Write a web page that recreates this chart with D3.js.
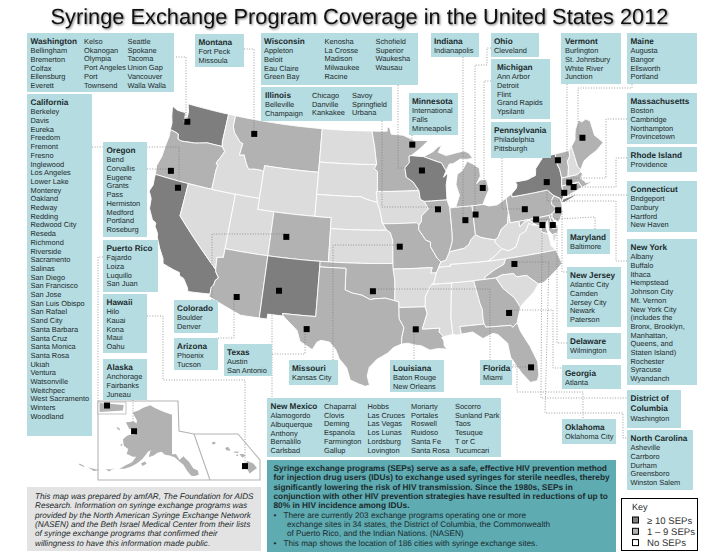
<!DOCTYPE html>
<html>
<head>
<meta charset="utf-8">
<script src="https://d3js.org/d3.v7.min.js"></script>
<style>
  body { margin: 0; background: #fff; }
  text { font-family: "Liberation Sans", Arial, sans-serif; fill: #1c2a2c; text-rendering: geometricPrecision; }
</style>
</head>
<body>
<script>
/* coverage groups */
var highStates = ["WA", "CA", "NM", "WI", "NY"];
var someStates = ["OR", "MT", "AZ", "CO", "TX", "OK", "MN", "MO", "LA", "IL", "IN", "MI", "MI2", "OH", "PA",
  "GA", "FL", "NC", "MD", "DE", "NJ", "CT", "RI", "MA", "VT", "ME"];

/* cities per label */
var washington1 = ["Bellingham", "Bremerton", "Colfax", "Ellensburg", "Everett"];
var washington2 = ["Kelso", "Okanogan", "Olympia", "Port Angeles", "Port", "Townsend"];
var washington3 = ["Seattle", "Spokane", "Tacoma", "Union Gap", "Vancouver", "Walla Walla"];
var california = ["Berkeley", "Davis", "Eureka", "Freedom", "Fremont", "Fresno", "Inglewood", "Los Angeles", "Lower Lake",
  "Monterey", "Oakland", "Redway", "Redding", "Redwood City", "Reseda", "Richmond", "Riverside", "Sacramento", "Salinas",
  "San Diego", "San Francisco", "San Jose", "San Luis Obispo", "San Rafael", "Sand City", "Santa Barbara", "Santa Cruz",
  "Santa Monica", "Santa Rosa", "Ukiah", "Ventura", "Watsonville", "Weitchpec", "West Sacramento", "Winters", "Woodland"];
var montana = ["Fort Peck", "Missoula"];
var wisconsin1 = ["Appleton", "Beloit", "Eau Claire", "Green Bay"];
var wisconsin2 = ["Kenosha", "La Crosse", "Madison", "Milwaukee", "Racine"];
var wisconsin3 = ["Schofield", "Superior", "Waukesha", "Wausau"];
var illinois1 = ["Belleville", "Champaign"];
var illinois2 = ["Chicago", "Danville", "Kankakee"];
var illinois3 = ["Savoy", "Springfield", "Urbana"];
var indiana = ["Indianapolis"];
var ohio = ["Cleveland"];
var michigan = ["Ann Arbor", "Detroit", "Flint", "Grand Rapids", "Ypsilanti"];
var pennsylvania = ["Philadelphia", "Pittsburgh"];
var minnesota = ["International", "Falls", "Minneapolis"];
var vermont = ["Burlington", "St. Johnsbury", "White River", "Junction"];
var maine = ["Augusta", "Bangor", "Ellsworth", "Portland"];
var massachusetts = ["Boston", "Cambridge", "Northampton", "Provincetown"];
var rhodeIsland = ["Providence"];
var connecticut = ["Bridgeport", "Danbury", "Hartford", "New Haven"];
var newYork = ["Albany", "Buffalo", "Ithaca", "Hempstead", "Johnson City", "Mt. Vernon", "New York City", "(includes the",
  "Bronx, Brooklyn,", "Manhattan,", "Queens, and", "Staten Island)", "Rochester", "Syracuse", "Wyandanch"];
var maryland = ["Baltimore"];
var newJersey = ["Atlantic City", "Camden", "Jersey City", "Newark", "Paterson"];
var delaware = ["Wilmington"];
var georgia = ["Atlanta"];
var dc = ["Washington"];
var oklahoma = ["Oklahoma City"];
var northCarolina = ["Asheville", "Carrboro", "Durham", "Greensboro", "Winston Salem"];
var florida = ["Miami"];
var louisiana = ["Baton Rouge", "New Orleans"];
var missouri = ["Kansas City"];
var texas = ["Austin", "San Antonio"];
var arizona = ["Phoenix", "Tucson"];
var colorado = ["Boulder", "Denver"];
var alaska = ["Anchorage", "Fairbanks", "Juneau"];
var hawaii = ["Hilo", "Kauai", "Kona", "Maui", "Oahu"];
var puertoRico = ["Fajardo", "Loiza", "Luquillo", "San Juan"];
var oregon = ["Bend", "Corvallis", "Eugene", "Grants", "Pass", "Hermiston", "Medford", "Portland", "Roseburg"];
var newMexico1 = ["Alamogordo", "Albuquerque", "Anthony", "Bernalillo", "Carlsbad"];
var newMexico2 = ["Chaparral", "Clovis", "Deming", "Espanola", "Farmington", "Gallup"];
var newMexico3 = ["Hobbs", "Las Cruces", "Las Vegas", "Los Lunas", "Lordsburg", "Lovington"];
var newMexico4 = ["Moriarty", "Portales", "Roswell", "Ruidoso", "Santa Fe", "Santa Rosa"];
var newMexico5 = ["Socorro", "Sunland Park", "Taos", "Tesuque", "T or C", "Tucumcari"];

/* SEP location squares, lon / lat */
var markerStates = ["WA", "MT", "OR", "CA", "CO", "AZ", "NM", "TX", "OK", "MN", "WI", "IL", "IN", "OH", "MI", "MO", "LA",
  "GA", "FL", "NC", "PA", "NY", "VT", "ME", "MA", "RI", "CT", "NJ", "MD", "DC", "DE"];
var markerLon = [-122.2, -113.1, -122.5, -121.1, -107.2, -111.8, -107.3, -103.9, -96.9, -91.8, -90.7, -89, -85.8, -84.5, -83.2, -93.8, -92.3,
  -82.2, -80.8, -80.8, -78.5, -75.2, -73.2, -69.4, -72.5, -72.1, -73.4, -74.6, -77.4, -76.8, -75.6];
var markerLat = [47.4, 47.7, 42.7, 41.4, 38.9, 32.9, 34, 30.8, 34.5, 47.7, 45.3, 41.7, 40.5, 40.9, 43.2, 38.5, 31,
  31.7, 26.5, 36, 40.7, 42.7, 44.4, 45.8, 42.2, 41.7, 41.4, 40, 39.6, 39, 38.8];

/* state outlines, lon / lat */
var WA = [[-124.7,48.38],[-123.9,48.16],[-123.1,48.15],[-122.75,48.15],[-122.6,47.3],[-122.35,47.4],[-122.4,48.3],[-122.75,49],[-117.03,49],[-117.04,46.42],[-116.92,45.995],[-118.98,46],[-119.3,45.93],[-120.5,45.7],[-121.2,45.65],[-122.3,45.55],[-122.76,45.65],[-122.9,46.1],[-123.4,46.2],[-124.05,46.27],[-124.1,46.9],[-124.4,47.5]];
var OR = [[-124.05,46.27],[-123.4,46.2],[-122.9,46.1],[-122.76,45.65],[-122.3,45.55],[-121.2,45.65],[-120.5,45.7],[-119.3,45.93],[-118.98,46],[-116.92,45.995],[-116.46,45.6],[-116.85,44.95],[-117.22,44.4],[-116.95,44.2],[-117.03,43.8],[-117.03,42],[-124.21,42],[-124.4,42.8],[-124.1,43.7],[-124.05,44.8],[-123.95,45.7]];
var CA = [[-124.21,42],[-120,42],[-120,39],[-114.63,35],[-114.57,34.8],[-114.14,34.3],[-114.43,34.05],[-114.53,33.55],[-114.72,33.4],[-114.72,32.72],[-117.12,32.53],[-117.25,32.85],[-117.9,33.6],[-118.4,33.75],[-118.5,34.03],[-119.2,34.15],[-120.5,34.45],[-120.65,34.9],[-121.3,35.7],[-121.9,36.6],[-122,36.95],[-122.5,37.5],[-122.5,37.8],[-123,38],[-123.7,38.9],[-123.85,39.8],[-124.35,40.4],[-124.1,41],[-124.2,41.7]];
var NV = [[-120,42],[-114.04,42],[-114.04,36.2],[-114.75,36.1],[-114.63,35],[-120,39]];
var ID = [[-117.03,49],[-116.05,49],[-116.05,48],[-115.7,47.45],[-114.7,46.7],[-114.35,46.65],[-114.5,45.55],[-113.9,45.65],[-113.45,44.95],[-113,44.45],[-112.3,44.55],[-111.5,44.55],[-111.05,44.48],[-111.05,42],[-117.03,42],[-117.03,43.8],[-116.95,44.2],[-117.22,44.4],[-116.85,44.95],[-116.46,45.6],[-116.92,45.995],[-117.04,46.42]];
var MT = [[-116.05,49],[-104.05,49],[-104.05,45],[-111.05,45],[-111.05,44.48],[-111.5,44.55],[-112.3,44.55],[-113,44.45],[-113.45,44.95],[-113.9,45.65],[-114.5,45.55],[-114.35,46.65],[-114.7,46.7],[-115.7,47.45],[-116.05,48]];
var WY = [[-111.05,45],[-104.05,45],[-104.05,41],[-111.05,41]];
var UT = [[-114.04,42],[-111.05,42],[-111.05,41],[-109.05,41],[-109.05,37],[-114.04,37]];
var AZ = [[-114.04,37],[-109.05,37],[-109.05,31.33],[-111.07,31.33],[-114.8,32.5],[-114.72,32.72],[-114.72,33.4],[-114.53,33.55],[-114.43,34.05],[-114.14,34.3],[-114.57,34.8],[-114.63,35],[-114.75,36.1],[-114.04,36.2]];
var CO = [[-109.05,41],[-102.05,41],[-102.05,37],[-109.05,37]];
var NM = [[-109.05,37],[-103,37],[-103.04,32],[-106.62,32],[-106.53,31.78],[-108.21,31.78],[-108.21,31.33],[-109.05,31.33]];
var ND = [[-104.05,49],[-97.23,49],[-96.85,47.6],[-96.56,45.94],[-104.05,45.94]];
var SD = [[-104.05,45.94],[-96.56,45.94],[-96.85,45.6],[-96.45,45.3],[-96.45,43.5],[-96.6,43.5],[-96.45,42.5],[-97.9,42.8],[-98.5,43],[-104.05,43]];
var NE = [[-104.05,43],[-98.5,43],[-97.9,42.8],[-96.45,42.5],[-96.1,41.7],[-95.85,40.7],[-95.31,40],[-102.05,40],[-102.05,41],[-104.05,41]];
var KS = [[-102.05,40],[-95.31,40],[-94.9,39.8],[-94.61,39.1],[-94.62,37],[-102.05,37]];
var OK = [[-103,37],[-94.62,37],[-94.43,35.4],[-94.48,33.64],[-95.5,33.88],[-96.6,33.83],[-97.2,33.75],[-98.1,34.13],[-99.2,34.3],[-100,34.56],[-100,36.5],[-103,36.5]];
var TX = [[-106.62,32],[-103.04,32],[-103,36.5],[-100,36.5],[-100,34.56],[-99.2,34.3],[-98.1,34.13],[-97.2,33.75],[-96.6,33.83],[-95.5,33.88],[-94.48,33.64],[-94.04,33.55],[-94.04,33.02],[-94.04,32],[-93.55,31.2],[-93.8,30.3],[-93.85,29.7],[-94.7,29.4],[-95.3,28.9],[-96.4,28.35],[-97.2,27.6],[-97.4,26.8],[-97.15,25.96],[-97.6,25.85],[-98.25,26.07],[-99.1,26.4],[-99.5,27.5],[-100.3,28.3],[-100.7,29.1],[-101.4,29.77],[-102.3,29.88],[-102.7,29.7],[-103.15,28.98],[-104.5,29.65],[-104.9,30.6],[-106.53,31.78]];
var MN = [[-97.23,49],[-95.15,49],[-95.15,49.38],[-94.8,49.3],[-94.6,48.72],[-93,48.6],[-91.5,48.07],[-89.6,48],[-90.8,47.3],[-92.02,46.7],[-92.29,46.66],[-92.29,46.07],[-92.9,45.6],[-92.75,44.75],[-91.9,44.3],[-91.22,43.5],[-96.45,43.5],[-96.45,45.3],[-96.85,45.6],[-96.56,45.94],[-96.85,47.6]];
var IA = [[-96.6,43.5],[-91.22,43.5],[-91.1,42.7],[-90.65,42.5],[-90.15,41.8],[-91.05,41.2],[-91.1,40.7],[-91.42,40.38],[-91.7,40.6],[-95.77,40.58],[-95.85,40.7],[-96.1,41.7],[-96.45,42.5]];
var MO = [[-95.77,40.58],[-91.7,40.6],[-91.42,40.38],[-91.5,40],[-90.7,39],[-90.15,38.8],[-90.2,38.4],[-89.5,37.3],[-89.1,36.95],[-89.4,36.5],[-89.7,36],[-90.37,36],[-90.15,36.5],[-94.62,36.5],[-94.62,37],[-94.61,39.1],[-94.9,39.8],[-95.31,40],[-95.85,40.7]];
var AR = [[-94.62,36.5],[-90.15,36.5],[-90.37,36],[-89.7,36],[-90.1,35],[-90.6,34.7],[-91.1,33.9],[-91.17,33],[-94.04,33.02],[-94.04,33.55],[-94.48,33.64],[-94.43,35.4]];
var LA = [[-94.04,33.02],[-91.17,33],[-91,32.4],[-91.6,31],[-89.73,31],[-89.85,30.65],[-89.4,30.2],[-89.6,30.15],[-89.4,29.8],[-89.4,29.35],[-89.1,29.05],[-90.1,29.15],[-90.9,29.05],[-91.8,29.5],[-92.3,29.55],[-93.2,29.77],[-93.85,29.7],[-93.8,30.3],[-93.55,31.2],[-94.04,32]];
var MS = [[-90.3,35],[-88.2,35],[-88.1,34.9],[-88.47,31.9],[-88.4,30.35],[-89.4,30.2],[-89.85,30.65],[-89.73,31],[-91.6,31],[-91,32.4],[-91.17,33],[-91.1,33.9],[-90.6,34.7]];
var AL = [[-88.2,35],[-85.6,35],[-85.18,32.87],[-85,32.3],[-85.05,31.55],[-85,31],[-87.6,31],[-87.5,30.3],[-88,30.25],[-88.4,30.35],[-88.47,31.9],[-88.1,34.9]];
var TN = [[-90.1,35],[-89.7,36],[-89.4,36.5],[-88.05,36.5],[-88.05,36.68],[-83.68,36.6],[-81.68,36.59],[-82,36.1],[-83.1,35.75],[-84.3,35.2],[-84.32,35],[-90.3,35]];
var KY = [[-89.4,36.5],[-89.1,36.95],[-88.5,37.1],[-88.05,37.8],[-87.2,37.9],[-86.3,38],[-85.7,38.3],[-85.4,38.7],[-84.8,39.1],[-84.2,38.8],[-83.6,38.65],[-82.6,38.42],[-82.6,38.15],[-81.97,37.54],[-82.7,37.05],[-83.68,36.6],[-88.05,36.68],[-88.05,36.5]];
var IL = [[-91.42,40.38],[-91.1,40.7],[-91.05,41.2],[-90.15,41.8],[-90.65,42.5],[-87.8,42.5],[-87.55,41.75],[-87.53,39.35],[-87.6,38.7],[-88.05,37.8],[-88.5,37.1],[-89.1,36.95],[-89.5,37.3],[-90.2,38.4],[-90.15,38.8],[-90.7,39],[-91.5,40]];
var IN = [[-87.53,41.72],[-86.8,41.76],[-84.8,41.76],[-84.8,39.1],[-85.4,38.7],[-85.7,38.3],[-86.3,38],[-87.2,37.9],[-88.05,37.8],[-87.6,38.7],[-87.53,39.35]];
var OH = [[-84.8,41.72],[-83.45,41.73],[-82.7,41.5],[-81.7,41.5],[-80.52,41.98],[-80.52,40.64],[-80.85,39.7],[-81.7,39.25],[-82.2,38.6],[-82.6,38.42],[-83.6,38.65],[-84.2,38.8],[-84.8,39.1]];
var MI = [[-86.8,41.76],[-84.8,41.72],[-83.45,41.73],[-83.1,42.2],[-82.45,43],[-82.6,43.9],[-83.4,43.95],[-83.9,43.65],[-83.3,44.3],[-83.3,45],[-84.1,45.5],[-84.75,45.78],[-85.5,45],[-86.2,44.7],[-86.5,43.8],[-86.2,42.8]];
var MI2 = [[-90.4,46.55],[-89.1,46.95],[-88.4,47.35],[-87.9,47.45],[-88.4,46.85],[-87.4,46.5],[-86.1,46.65],[-85,46.75],[-84.4,46.5],[-84,46],[-84.75,45.95],[-85.6,46.05],[-86.6,45.7],[-87.1,45.7],[-87.6,45.1],[-88.1,45.85],[-89.1,46.15]];
var WI = [[-92.02,46.7],[-90.4,46.55],[-89.1,46.15],[-88.1,45.85],[-87.6,45.1],[-88,44.55],[-87.4,44.9],[-87.75,43.8],[-87.8,42.5],[-90.65,42.5],[-91.1,42.7],[-91.22,43.5],[-91.9,44.3],[-92.75,44.75],[-92.9,45.6],[-92.29,46.07],[-92.29,46.66]];
var PA = [[-80.52,41.98],[-79.76,42.27],[-79.76,42],[-75.35,42],[-74.7,41.36],[-75.13,40.98],[-75.2,40.65],[-74.72,40.15],[-75.42,39.8],[-75.79,39.72],[-80.52,39.72]];
var NY = [[-79.76,42.27],[-79.05,42.7],[-78.9,43],[-79.05,43.27],[-77.5,43.27],[-76.4,43.5],[-76.2,44.1],[-75,44.97],[-73.35,45.01],[-73.4,44],[-73.25,43.55],[-73.27,42.75],[-73.5,42.05],[-73.49,41.2],[-73.65,41],[-73.95,40.75],[-74.05,41],[-74.7,41.36],[-75.35,42],[-79.76,42]];
var NY2 = [[-74,40.6],[-73.7,40.87],[-72.6,40.97],[-71.9,41.07],[-72.5,40.82],[-73.6,40.58]];
var VT = [[-73.35,45.01],[-71.5,45.01],[-71.6,44.5],[-72.05,44.1],[-72.1,43.6],[-72.46,42.73],[-73.27,42.75],[-73.25,43.55],[-73.4,44]];
var NH = [[-71.5,45.01],[-71.08,45.3],[-70.98,43.4],[-70.7,43.07],[-70.82,42.87],[-71.3,42.7],[-72.46,42.73],[-72.1,43.6],[-72.05,44.1],[-71.6,44.5]];
var ME = [[-71.08,45.3],[-70.4,45.8],[-70.25,46.2],[-70,46.7],[-69.23,47.46],[-68.9,47.2],[-68.3,47.35],[-67.8,47.07],[-67.8,45.7],[-67.4,45.3],[-67,44.85],[-68.2,44.3],[-69,44.1],[-70,43.75],[-70.7,43.07],[-70.98,43.4]];
var MA = [[-73.5,42.05],[-73.27,42.75],[-72.46,42.73],[-71.3,42.7],[-70.82,42.87],[-70.6,42.65],[-71,42.3],[-70.6,41.95],[-70.55,41.8],[-70.05,41.78],[-70.2,42.07],[-69.97,41.7],[-70.65,41.55],[-71.12,41.5],[-71.38,42.02],[-71.8,42.02]];
var RI = [[-71.8,42.02],[-71.38,42.02],[-71.12,41.5],[-71.85,41.32]];
var CT = [[-73.5,42.05],[-71.8,42.02],[-71.85,41.32],[-73.65,41],[-73.49,41.2]];
var NJ = [[-74.7,41.36],[-74.05,41],[-74,40.45],[-74.1,39.75],[-74.9,38.93],[-75.5,39.5],[-75.42,39.8],[-74.72,40.15],[-75.2,40.65],[-75.13,40.98]];
var DE = [[-75.79,39.72],[-75.42,39.8],[-75.55,39.45],[-75.05,38.45],[-75.7,38.46]];
var MD = [[-79.48,39.72],[-75.79,39.72],[-75.7,38.46],[-75.05,38.45],[-75.25,38.03],[-75.9,37.95],[-76.2,38.4],[-76.1,39.3],[-76.45,38.9],[-76.35,38.1],[-77.05,38.4],[-77.05,38.9],[-77.5,39.1],[-78.2,39.65],[-78.8,39.6],[-79.48,39.2]];
var VA = [[-83.68,36.6],[-81.68,36.59],[-75.87,36.55],[-76.3,37],[-76.3,37.7],[-76.35,38.1],[-77.05,38.4],[-77.05,38.9],[-77.5,39.1],[-77.83,39.13],[-78.35,39.4],[-78.87,38.75],[-79.65,38.5],[-80.3,37.5],[-81.2,37.25],[-81.97,37.54],[-82.7,37.05]];
var VA2 = [[-75.9,37.95],[-75.25,38.03],[-75.95,37.15]];
var WV = [[-80.52,40.64],[-80.52,39.72],[-79.48,39.72],[-79.48,39.2],[-78.8,39.6],[-78.2,39.65],[-77.75,39.3],[-77.83,39.13],[-78.35,39.4],[-78.87,38.75],[-79.65,38.5],[-80.3,37.5],[-81.2,37.25],[-81.97,37.54],[-82.6,38.15],[-82.6,38.42],[-82.2,38.6],[-81.7,39.25],[-80.85,39.7]];
var NC = [[-84.32,35],[-84.3,35.2],[-83.1,35.75],[-82,36.1],[-81.68,36.59],[-75.87,36.55],[-75.5,35.25],[-76.5,34.65],[-77.9,33.9],[-78.55,33.86],[-79.67,34.8],[-80.8,34.82],[-81.05,35.15],[-82.3,35.2],[-83.1,35]];
var SC = [[-83.1,35],[-82.3,35.2],[-81.05,35.15],[-80.8,34.82],[-79.67,34.8],[-78.55,33.86],[-79.2,33.2],[-80.5,32.4],[-80.9,32.05],[-81.4,33],[-82.5,34]];
var GA = [[-85.6,35],[-84.32,35],[-83.1,35],[-82.5,34],[-81.4,33],[-80.9,32.05],[-81.4,31],[-81.5,30.72],[-82.05,30.36],[-82.2,30.57],[-84.86,30.7],[-85,31],[-85.05,31.55],[-85,32.3],[-85.18,32.87]];
var FL = [[-87.6,31],[-85,31],[-84.86,30.7],[-82.2,30.57],[-82.05,30.36],[-81.5,30.72],[-81.3,29.9],[-80.55,28.4],[-80.05,26.9],[-80.15,25.7],[-80.4,25.2],[-81.1,25.15],[-81.8,26.1],[-82.7,27.7],[-82.8,29],[-83.7,29.9],[-84.2,30.07],[-85.3,29.7],[-86.3,30.4],[-87.5,30.3]];

var AK = [[-141,69.65],[-141,60.3],[-139.1,60.35],[-137.5,58.9],[-136.5,59.45],[-135.5,59.75],[-135,59.3],[-133.4,58.4],[-131.8,56.6],[-130,56],[-130,55],[-131.5,54.8],[-133,55],[-134.5,56.2],[-136,57.8],[-137.5,58.5],[-139.7,59.6],[-142,60],[-144.5,60.2],[-146,60.8],[-148,60.5],[-149.5,59.8],[-151.8,59.2],[-151.5,60.7],[-150,61.2],[-152.5,60.5],[-153.5,59.5],[-154.5,58.5],[-156.5,57.2],[-158.5,56.2],[-161,55.2],[-163,54.8],[-161,56],[-158.5,57.3],[-157.5,58.7],[-159,58.5],[-162,58.7],[-162,59.9],[-164.5,60.3],[-166,61.6],[-165,62.6],[-164,63.1],[-161,63.6],[-161,64.5],[-165,64.5],[-168,65.6],[-164,66.5],[-162,66.2],[-162.5,67],[-166.5,68.35],[-163,69.5],[-161,70.3],[-156.7,71.3],[-152,70.8],[-146,70.2]];
var AK2 = [[-154.7,57.4],[-153.2,58],[-152.2,57.6],[-153.8,56.9]];
var AK3 = [[-166.2,60.4],[-165.2,60.5],[-165.7,59.9]];
var AK4 = [[-171.7,63.7],[-170,63.7],[-169,63.3],[-170.5,63.3]];
var AK5 = [[-168,53.6],[-166,54],[-164.8,54.6],[-166.5,53.4]];
var AK6 = [[-174.5,52.2],[-172.5,52.4],[-170,52.9],[-172,52]];
var AK7 = [[-178,51.9],[-176,52],[-176,51.7],[-178,51.6]];
var HI1 = [[-155.9,20.25],[-155.2,19.95],[-154.8,19.5],[-155.6,18.95],[-156.05,19.7]];
var HI2 = [[-156.7,20.95],[-156.3,20.95],[-156,20.75],[-156.4,20.58]];
var HI3 = [[-158.25,21.55],[-157.95,21.7],[-157.65,21.3],[-158.1,21.3]];
var HI4 = [[-159.75,22.1],[-159.4,22.23],[-159.3,22],[-159.6,21.9]];
var HI5 = [[-157.3,21.2],[-156.7,21.17],[-156.9,21.05],[-157.3,21.1]];
var HI6 = [[-157,20.9],[-156.85,20.9],[-156.85,20.75],[-157.05,20.75]];
var PR = [[-67.2,18.5],[-65.65,18.38],[-65.7,18.05],[-67.2,17.95]];

var lower48 = [["WA",WA],["OR",OR],["CA",CA],["NV",NV],["ID",ID],["MT",MT],["WY",WY],["UT",UT],["AZ",AZ],["CO",CO],["NM",NM],
  ["ND",ND],["SD",SD],["NE",NE],["KS",KS],["OK",OK],["TX",TX],["MN",MN],["IA",IA],["MO",MO],["AR",AR],["LA",LA],["MS",MS],["AL",AL],
  ["TN",TN],["KY",KY],["IL",IL],["IN",IN],["OH",OH],["MI",MI],["MI2",MI2],["WI",WI],["PA",PA],["NY",NY],["NY",NY2],["VT",VT],["NH",NH],
  ["ME",ME],["MA",MA],["RI",RI],["CT",CT],["NJ",NJ],["DE",DE],["MD",MD],["VA",VA],["VA",VA2],["WV",WV],["NC",NC],["SC",SC],["GA",GA],["FL",FL]];

var width = 720, height = 556;
var svg = d3.select("body").append("svg").attr("width", width).attr("height", height);

var highColor = "#7e7e7e", someColor = "#b2b2b2", noneColor = "#dcdcdc";
var boxColor = "#b5dce1";

var projection = d3.geoConicEqualArea().parallels([29.5, 45.5]).rotate([96, 0]).center([0, 37.5])
  .scale(630).translate([381, 258]);
var akProjection = d3.geoConicEqualArea().parallels([55, 65]).rotate([141, 0]).center([0, 58.5])
  .scale(243).translate([172, 462]);
var hiProjection = d3.geoConicEqualArea().parallels([8, 18]).rotate([157, 0]).center([-3, 19.9])
  .scale(560).translate([209, 464]);
var prProjection = d3.geoMercator().center([-66.4, 18.2]).scale(890).translate([112, 408]);

// chop long edges so borders follow the parallels, then make sure the ring winds the right way
function feature(ring) {
  var pts = [];
  ring.forEach(function(p, i) {
    var q = ring[(i + 1) % ring.length];
    var n = Math.ceil(Math.max(Math.abs(q[0] - p[0]), Math.abs(q[1] - p[1])));
    for (var k = 0; k < n; k++) pts.push([p[0] + (q[0] - p[0]) * k / n, p[1] + (q[1] - p[1]) * k / n]);
  });
  pts.push(pts[0]);
  var f = { type: "Polygon", coordinates: [pts] };
  if (d3.geoArea(f) > 2 * Math.PI) f.coordinates = [pts.slice().reverse()];
  return f;
}
function fillFor(name) {
  if (highStates.indexOf(name) >= 0) return highColor;
  if (someStates.indexOf(name) >= 0) return someColor;
  return noneColor;
}

// title
svg.append("text").attr("x", 359.5).attr("y", 24).attr("text-anchor", "middle")
  .style("font-size", "21.8px").style("fill", "#111")
  .style("filter", "drop-shadow(1px 1px 1px #777)")
  .text("Syringe Exchange Program Coverage in the United States 2012");

// leader lines, drawn under boxes and map marks
var leaders = [
  [[176,57],[186,57],[186,122]],
  [[244,49],[254,49],[254,134]],
  [[398,85],[398,168],[422,168]],
  [[382,121],[382,207],[438,207]],
  [[463,57],[463,220]],
  [[491,48],[487,48],[487,65],[475,65],[475,215]],
  [[491,81],[484,81],[484,188]],
  [[502,158],[502,209],[525,209]],
  [[567,84],[567,155],[558,160]],
  [[632,84],[632,88],[578,88],[578,138]],
  [[627,119],[606,119],[606,178],[570,178]],
  [[627,158],[616,158],[616,187],[574,187]],
  [[627,195],[564,195]],
  [[627,261],[616,261],[616,201],[547,201],[547,182]],
  [[595,229],[595,217],[536,220]],
  [[567,272],[562,272],[562,210]],
  [[567,343],[557,343],[557,225]],
  [[509,310],[553,310],[553,368],[562,368]],
  [[542,225],[541,398],[627,398]],
  [[373,289],[490,289],[490,365],[517,365],[517,392],[583,392],[583,419]],
  [[514,262],[549,262],[545,413],[623,413],[623,438],[627,438]],
  [[92,147],[179,147],[179,188]],
  [[147,169],[171,169]],
  [[212,300],[212,234],[286,234]],
  [[218,338],[234,338],[234,297]],
  [[272,297],[272,398]],
  [[272,354],[305,354],[305,329]],
  [[147,316],[163,316],[163,380],[245,380],[245,466]],
  [[103,257],[98,257],[98,402]],
  [[333,360],[333,245],[400,245]],
  [[414,329],[414,360]],
  [[512,367],[531,367]],
  [[412,135],[412,145]],
  [[133,400],[133,432]]
];

// map
var path = d3.geoPath(projection);
svg.append("g").selectAll("path").data(lower48).join("path")
  .attr("d", function(d) { return path(feature(d[1])); })
  .attr("fill", function(d) { return fillFor(d[0]); })
  .attr("stroke", "#fff").attr("stroke-width", 0.9).attr("stroke-linejoin", "round");

svg.append("g").selectAll("path").data(leaders).join("path")
  .attr("d", d3.line())
  .attr("fill", "none").attr("stroke", "#777").attr("stroke-width", 0.7).attr("stroke-dasharray", "1 1.6");

// inset frame
svg.append("path")
  .attr("d", d3.line()([[98,401],[178,401],[179,431],[194,434],[238,434],[260,460],[260,480],[98,480],[98,401]]))
  .attr("fill", "none").attr("stroke", "#b4b4b4").attr("stroke-width", 1.1);
svg.append("path").attr("d", d3.line()([[194,434],[210,480]])).attr("fill", "none").attr("stroke", "#b4b4b4").attr("stroke-width", 1.1);
svg.append("rect").attr("x", 98).attr("y", 402).attr("width", 28).attr("height", 12)
  .attr("fill", "#fff").attr("stroke", "#b4b4b4").attr("stroke-width", 0.8);

var akPath = d3.geoPath(akProjection), hiPath = d3.geoPath(hiProjection), prPath = d3.geoPath(prProjection);
svg.append("g").selectAll("path").data([AK, AK2, AK3, AK4, AK5, AK6, AK7]).join("path")
  .attr("d", function(d) { return akPath(feature(d)); }).attr("fill", someColor);
svg.append("g").selectAll("path").data([HI1, HI2, HI3, HI4, HI5, HI6]).join("path")
  .attr("d", function(d) { return hiPath(feature(d)); }).attr("fill", someColor);
svg.append("path").attr("d", prPath(feature(PR))).attr("fill", someColor);

// label boxes: columns are [x offset, first row, cities]
var boxes = [
  ["Washington", 27, 33, 147, 59, [[3.5, 1, washington1], [57, 0, washington2], [100.5, 0, washington3]]],
  ["California", 27, 94, 65, 342, [[3.5, 1, california]]],
  ["Montana", 195, 34, 49, 33, [[3.5, 1, montana]]],
  ["Wisconsin", 261, 33, 157, 52, [[3, 1, wisconsin1], [63.5, 0, wisconsin2], [114.5, 0, wisconsin3]]],
  ["Illinois", 261, 87, 131, 34, [[4, 1, illinois1], [51, 0, illinois2], [91, 0, illinois3]]],
  ["Indiana", 431, 33, 48, 24, [[3, 1, indiana]]],
  ["Ohio", 491, 33, 48, 24, [[3, 1, ohio]]],
  ["Michigan", 491, 59, 59, 60, [[6, 1, michigan]]],
  ["Pennsylvania", 491, 122, 60, 36, [[3, 1, pennsylvania]]],
  ["Minnesota", 409, 93, 49, 42, [[3, 1, minnesota]]],
  ["Vermont", 561, 33, 60, 51, [[4, 1, vermont]]],
  ["Maine", 627, 33, 70, 51, [[3.5, 1, maine]]],
  ["Massachusetts", 627, 93, 70, 51, [[3.5, 1, massachusetts]]],
  ["Rhode Island", 627, 147, 70, 25, [[3.5, 1, rhodeIsland]]],
  ["Connecticut", 627, 181, 70, 51, [[3.5, 1, connecticut]]],
  ["New York", 627, 239, 70, 146, [[3.5, 1, newYork]]],
  ["Maryland", 567, 229, 43, 25, [[3, 1, maryland]]],
  ["New Jersey", 567, 267, 54, 60, [[3, 1, newJersey]]],
  ["Delaware", 567, 333, 54, 26, [[3, 1, delaware]]],
  ["Georgia", 562, 365, 59, 24, [[3, 1, georgia]]],
  ["Oklahoma", 562, 419, 54, 25, [[3, 1, oklahoma]]],
  ["North Carolina", 627, 430, 66, 60, [[3.5, 1, northCarolina]]],
  ["Florida", 480, 360, 32, 25, [[3, 1, florida]]],
  ["Louisiana", 390, 360, 54, 32, [[3, 1, louisiana]]],
  ["Missouri", 289, 360, 49, 25, [[3, 1, missouri]]],
  ["Texas", 224, 344, 48, 32, [[3, 1, texas]]],
  ["Arizona", 174, 338, 44, 32, [[3, 1, arizona]]],
  ["Colorado", 174, 300, 44, 33, [[3, 1, colorado]]],
  ["Alaska", 103, 359, 44, 41, [[3.5, 1, alaska]]],
  ["Hawaii", 103, 294, 44, 59, [[3.5, 1, hawaii]]],
  ["Puerto Rico", 103, 240, 55, 52, [[3.5, 1, puertoRico]]],
  ["Oregon", 103, 142, 44, 95, [[3.5, 1, oregon]]],
  ["New Mexico", 267, 398, 234, 59, [[3.5, 1, newMexico1], [57, 0, newMexico2], [100.5, 0, newMexico3], [144, 0, newMexico4], [188, 0, newMexico5]]]
];
var rowStep = 8.7, cityFont = "7.4px", titleFont = "8.2px";
boxes.forEach(function(b) {
  var g = svg.append("g");
  g.append("rect").attr("x", b[1]).attr("y", b[2]).attr("width", b[3]).attr("height", b[4]).attr("fill", boxColor);
  g.append("text").attr("x", b[1] + b[5][0][0]).attr("y", b[2] + 11)
    .style("font-size", titleFont).style("font-weight", "bold").text(b[0]);
  b[5].forEach(function(col) {
    col[2].forEach(function(city, i) {
      g.append("text").attr("x", b[1] + col[0]).attr("y", b[2] + 11 + (col[1] + i) * rowStep + (col[1] ? 0.6 : 0))
        .style("font-size", cityFont).text(city);
    });
  });
});
// DC has a two line title
svg.append("rect").attr("x", 627).attr("y", 390).attr("width", 54).attr("height", 38).attr("fill", boxColor);
svg.append("text").attr("x", 630.5).attr("y", 401).style("font-size", titleFont).style("font-weight", "bold").text("District of");
svg.append("text").attr("x", 630.5).attr("y", 411).style("font-size", titleFont).style("font-weight", "bold").text("Columbia");
svg.append("text").attr("x", 630.5).attr("y", 421).style("font-size", cityFont).text(dc[0]);

// note boxes
svg.append("rect").attr("x", 27).attr("y", 487).attr("width", 234).attr("height", 64).attr("fill", "#e3e3e3");
var noteLines = ["This map was prepared by amfAR, The Foundation for AIDS",
  "Research. Information on syringe exchange programs was",
  "provided by the North American Syringe Exchange Network",
  "(NASEN) and the Beth Israel Medical Center from their lists",
  "of syringe exchange programs that confirmed their",
  "willingness to have this information made public."];
svg.append("g").selectAll("text").data(noteLines).join("text")
  .attr("x", 35).attr("y", function(d, i) { return 499 + i * 9.33; })
  .style("font-size", "8.2px").style("font-style", "italic").text(function(d) { return d; });

svg.append("rect").attr("x", 267).attr("y", 460).attr("width", 349).attr("height", 92).attr("fill", "#5eabb2");
var boldLines = ["Syringe exchange programs (SEPs) serve as a safe, effective HIV prevention method",
  "for injection drug users (IDUs) to exchange used syringes for sterile needles, thereby",
  "significantly lowering the risk of HIV transmission. Since the 1980s, SEPs in",
  "conjunction with other HIV prevention strategies have resulted in reductions of up to",
  "80% in HIV incidence among IDUs."];
svg.append("g").selectAll("text").data(boldLines).join("text")
  .attr("x", 273.5).attr("y", function(d, i) { return 471 + i * 9.33; })
  .style("font-size", "8.3px").style("font-weight", "bold").text(function(d) { return d; });
[[273.5, 0, "•"], [283.5, 0, "There are currently 203 exchange programs operating one or more"],
 [287, 1, "exchange sites in 34 states, the District of Columbia, the Commonwealth"],
 [287, 2, "of Puerto Rico, and the Indian Nations. (NASEN)"],
 [273.5, 3, "•"], [283.5, 3, "This map shows the location of 186 cities with syringe exchange sites."]].forEach(function(d) {
  svg.append("text").attr("x", d[0]).attr("y", 518 + d[1] * 9.2).style("font-size", "8.2px").text(d[2]);
});

// SEP squares
svg.append("g").selectAll("rect").data(markerStates).join("rect")
  .attr("x", function(d, i) { return projection([markerLon[i], markerLat[i]])[0] - 3; })
  .attr("y", function(d, i) { return projection([markerLon[i], markerLat[i]])[1] - 3; })
  .attr("width", 6).attr("height", 6).attr("fill", "#000");
var akPt = akProjection([-162, 64.3]), hiPt = hiProjection([-156.1, 19.7]), prPt = prProjection([-66.72, 18.35]);
[akPt, hiPt, prPt].forEach(function(p) {
  svg.append("rect").attr("x", p[0] - 3).attr("y", p[1] - 3).attr("width", 6).attr("height", 6).attr("fill", "#000");
});

// key
var keyLabels = ["≥ 10 SEPs", "1 – 9 SEPs", "No SEPs"];
var keyFills = [highColor, someColor, "#fff"];
svg.append("rect").attr("x", 621.5).attr("y", 498.5).attr("width", 76).attr("height", 52)
  .attr("fill", "#fff").attr("stroke", "#000").attr("stroke-width", 1);
svg.append("text").attr("x", 632).attr("y", 510).style("font-size", "9px").text("Key");
keyLabels.forEach(function(label, i) {
  svg.append("rect").attr("x", 632.5).attr("y", 517 + i * 11.3).attr("width", 6).attr("height", 6)
    .attr("fill", keyFills[i]).attr("stroke", "#000").attr("stroke-width", 1);
  svg.append("text").attr("x", 647).attr("y", 521.5 + i * 11.3 + 2).style("font-size", "9.6px").style("fill", "#333").text(label);
});
</script>
</body>
</html>
